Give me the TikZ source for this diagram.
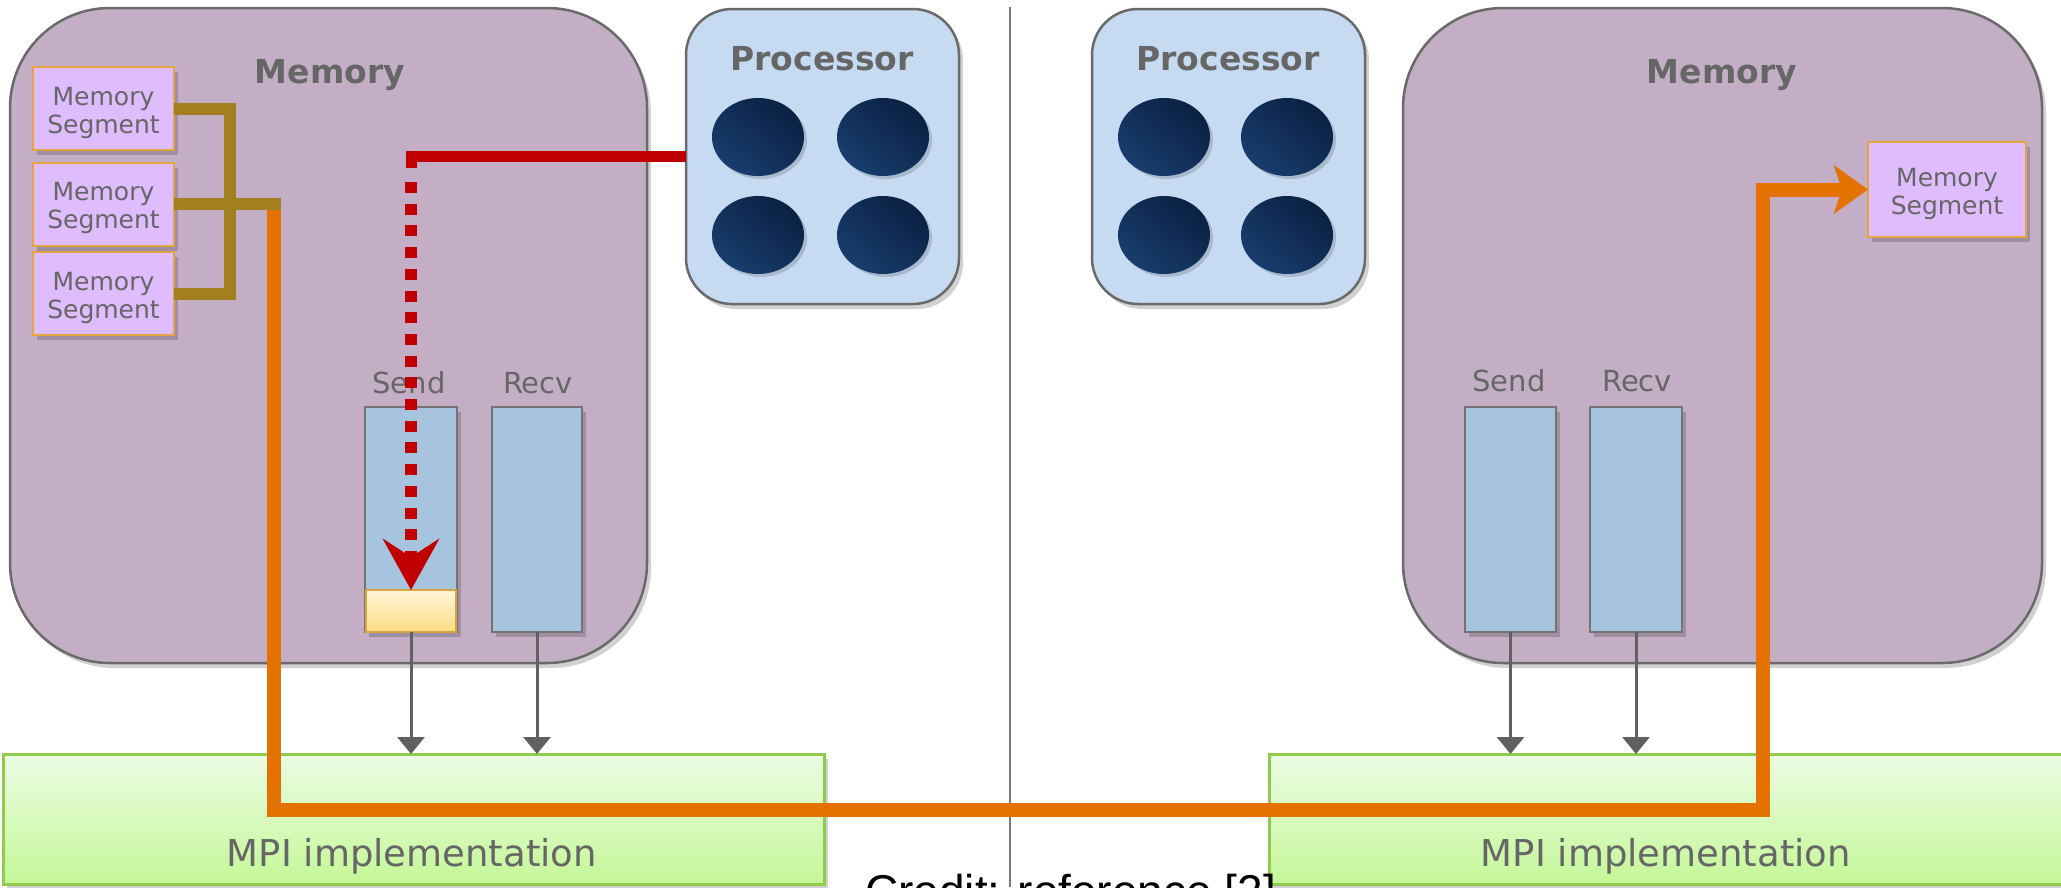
\documentclass[tikz,border=0pt]{standalone}
\usepackage{fontspec}
\setmainfont{DejaVu Sans}
\newfontfamily\creditfont{Liberation Sans}
\usetikzlibrary{arrows.meta,shadows,shapes.geometric}

\definecolor{memfill}{HTML}{C4AEC6}
\definecolor{edgegray}{HTML}{6A6A6A}
\definecolor{procfill}{HTML}{C6DAF1}
\definecolor{segfill}{HTML}{DFBCFD}
\definecolor{segedge}{HTML}{E3A63C}
\definecolor{buffill}{HTML}{A7C4DE}
\definecolor{bufedge}{HTML}{737373}
\definecolor{olivebar}{HTML}{A3801F}
\definecolor{orangepath}{HTML}{E47200}
\definecolor{redpath}{HTML}{C00000}
\definecolor{labelgray}{HTML}{666666}
\definecolor{mpitop}{HTML}{EBFCE3}
\definecolor{mpibot}{HTML}{C5F798}
\definecolor{mpiedge}{HTML}{8FCB4C}
\definecolor{yeltop}{HTML}{FFF5D8}
\definecolor{yelbot}{HTML}{FFDC85}
\definecolor{yeledge}{HTML}{D9A441}
\definecolor{corelight}{HTML}{183D6E}
\definecolor{coredark}{HTML}{0A2142}
\definecolor{dividergray}{HTML}{7A7A7A}
\definecolor{arrowgray}{HTML}{606060}

\begin{document}
\begin{tikzpicture}[x=1pt,y=-1pt,
  softshadow/.style={drop shadow={shadow xshift=4pt,shadow yshift=-5pt,fill=black,opacity=0.18}},
  memorybox/.style={draw=edgegray,line width=2.5pt,fill=memfill,rounded corners=100pt,
    inner sep=0pt,outer sep=0pt,softshadow},
  procbox/.style={draw=edgegray,line width=2.5pt,fill=procfill,rounded corners=46pt,
    inner sep=0pt,outer sep=0pt,softshadow},
  coreball/.style={ellipse,inner sep=0pt,minimum width=92pt,minimum height=78pt,
    top color=coredark,bottom color=corelight,shading angle=-40,
    drop shadow={shadow xshift=3pt,shadow yshift=-3pt,fill=black,opacity=0.15}},
  segbox/.style={draw=segedge,line width=2pt,fill=segfill,inner sep=0pt,outer sep=0pt,
    align=center,text=labelgray,font=\fontsize{25}{28}\selectfont,softshadow},
  bufbox/.style={draw=bufedge,line width=2pt,fill=buffill,inner sep=0pt,outer sep=0pt,
    minimum height=225pt,softshadow},
  bufname/.style={text=labelgray,font=\fontsize{29}{34}\selectfont,inner sep=0pt},
  yelbox/.style={draw=yeledge,line width=2pt,top color=yeltop,bottom color=yelbot,
    inner sep=0pt,outer sep=0pt,minimum width=90pt,minimum height=42pt},
  mpibox/.style={draw=mpiedge,line width=3pt,top color=mpitop,bottom color=mpibot,
    inner sep=0pt,outer sep=0pt,minimum height=130pt,softshadow},
  titletext/.style={text=labelgray,font=\fontsize{33}{40}\selectfont\bfseries,
    inner sep=0pt,anchor=base},
  mpitext/.style={text=labelgray,font=\fontsize{37}{44}\selectfont,inner sep=0pt,anchor=base},
  feedarrow/.style={draw=arrowgray,line width=3pt,-{Triangle[width=27pt,length=17pt]}},
  bracketline/.style={draw=olivebar,line width=12pt,line join=miter},
  transferline/.style={draw=orangepath,line width=14pt,line join=miter,
    -{Stealth[length=34pt,width=48pt,inset=8pt]}},
  loadline/.style={draw=redpath,line width=11pt,line join=miter},
  loaddots/.style={draw=redpath,line width=12pt,dash pattern=on 11pt off 10.7pt,
    -{Stealth[length=51pt,width=56pt,inset=18pt]}},
]
\useasboundingbox (0,0) rectangle (2061,887);
\clip (0,0) rectangle (2061,887);

% divider between the two hosts
\draw[dividergray,line width=2pt] (1010,7) -- (1010,887);

% ---------- left host ----------
\node[memorybox,minimum width=637pt,minimum height=655pt] (memL) at (328.5,335.5) {};
\node[titletext] (memLt) at (330,83) {Memory};

\node[procbox,minimum width=273pt,minimum height=295pt] (procL) at (822.5,156.5) {};
\node[titletext] (procLt) at (822,70) {Processor};
\node[coreball] (cL1) at (758,137) {};
\node[coreball] (cL2) at (883,137) {};
\node[coreball] (cL3) at (758,235) {};
\node[coreball] (cL4) at (883,235) {};

\node[segbox,minimum width=141pt,minimum height=83pt] (sL1) at (103.5,108.5)
  {\rule{0pt}{27pt}Memory\\Segment};
\node[segbox,minimum width=141pt,minimum height=83pt] (sL2) at (103.5,204)
  {\rule{0pt}{27pt}Memory\\Segment};
\node[segbox,minimum width=141pt,minimum height=83pt] (sL3) at (103.5,293.5)
  {\rule{0pt}{27pt}Memory\\Segment};

\node[bufbox,minimum width=92pt] (sendL) at (411,519.5) {};
\node[bufbox,minimum width=90pt] (recvL) at (537,519.5) {};
\node[bufname,anchor=base] (sendLt) at (409,393) {Send};
\node[bufname,anchor=base] (recvLt) at (538,393) {Recv};
\node[yelbox] (yel) at (411,611) {};

\node[mpibox,minimum width=821pt] (mpiL) at (413.5,819) {};
\node[mpitext] (mpiLt) at (412,866) {MPI implementation};

% ---------- right host ----------
\node[procbox,minimum width=273pt,minimum height=295pt] (procR) at (1228.5,156.5) {};
\node[titletext] (procRt) at (1228,70) {Processor};
\node[coreball] (cR1) at (1164,137) {};
\node[coreball] (cR2) at (1287,137) {};
\node[coreball] (cR3) at (1164,235) {};
\node[coreball] (cR4) at (1287,235) {};

\node[memorybox,minimum width=639pt,minimum height=655pt] (memR) at (1722.5,335.5) {};
\node[titletext] (memRt) at (1722,83) {Memory};

\node[segbox,minimum width=158pt,minimum height=95pt] (sR) at (1947,189.5)
  {\rule{0pt}{27pt}Memory\\Segment};

\node[bufbox,minimum width=91pt] (sendR) at (1510.5,519.5) {};
\node[bufbox,minimum width=92pt] (recvR) at (1636,519.5) {};
\node[bufname,anchor=base] (sendRt) at (1509,391) {Send};
\node[bufname,anchor=base] (recvRt) at (1637,391) {Recv};

\node[mpibox,minimum width=801pt] (mpiR) at (1669.5,819) {};
\node[mpitext] (mpiRt) at (1666,866) {MPI implementation};

% buffers hand their data to the MPI layer
\draw[feedarrow] (sendL.south) -- (sendL.south |- mpiL.north);
\draw[feedarrow] (recvL.south) -- (recvL.south |- mpiL.north);
\draw[feedarrow] (sendR.south) -- (sendR.south |- mpiR.north);
\draw[feedarrow] (recvR.south) -- (recvR.south |- mpiR.north);

% segments gathered into one outgoing message
\coordinate (join) at (274,204);
\coordinate (turn) at (1763,810);
\draw[transferline] (join) |- (turn) |- (sR.west);
\draw[bracketline] (sL1.east) -- ++(56,0) |- (sL3.east);
\draw[bracketline] (sL2.east) -- ++(107,0);

% processor writes into the send buffer
\coordinate (rcdown) at (411,168);
\coordinate (rcdots) at (411,182);
\draw[loadline] (procL.west) -| (rcdown);
\draw[loaddots] (rcdots) -- (yel.north);

% source note
\node[font=\creditfont\fontsize{46}{52}\selectfont,anchor=base west,inner sep=0pt]
  (credit) at (865,907) {Credit: reference [2]};
\end{tikzpicture}
\end{document}
